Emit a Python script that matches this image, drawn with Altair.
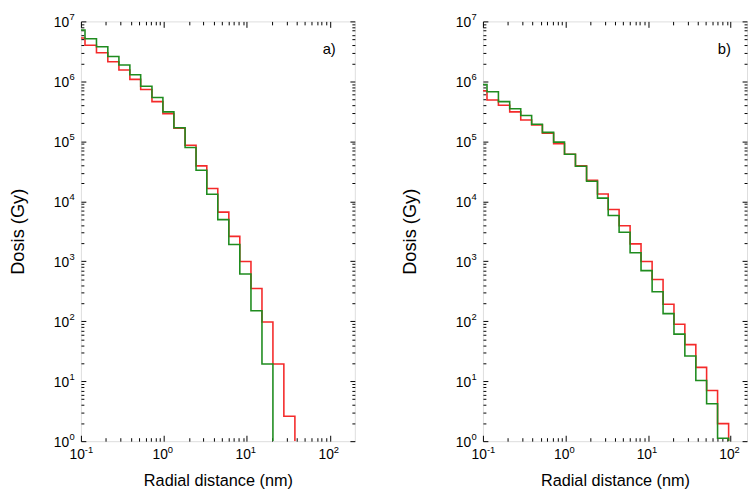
import altair as alt
import pandas as pd

# ---- data ----
# common bin edges (nm), log-spaced histogram
edges_nm = [0.112, 0.154, 0.211, 0.287, 0.389, 0.525, 0.718, 0.973, 1.32, 1.80,
            2.44, 3.29, 4.46, 6.06, 8.22, 11.2, 15.2, 20.6, 27.9, 37.9,
            51.2, 69.5, 94.6]

# panel a) dose per bin (Gy)
red_a = [5.3e6, 4.0e6, 3.0e6, 2.12e6, 1.55e6, 1.08e6, 7.3e5, 4.6e5, 2.9e5, 1.66e5,
         8.6e4, 3.9e4, 1.64e4, 6.6e3, 2.6e3, 990, 351, 97, 19.3, 2.6]
green_a = [7.2e6, 5.15e6, 3.78e6, 2.6e6, 1.87e6, 1.29e6, 8.3e5, 5.4e5, 3.1e5, 1.68e5,
           7.9e4, 3.3e4, 1.31e4, 4.95e3, 1.9e3, 615, 150, 19.3]

# panel b)
red_b = [7.0e5, 4.9e5, 4.0e5, 3.1e5, 2.27e5, 1.88e5, 1.36e5, 9.1e4, 6.1e4, 3.9e4,
         2.24e4, 1.32e4, 7.3e3, 3.9e3, 1.95e3, 990, 498, 192, 89, 40.8,
         17, 7.0, 1.96]
green_b = [8.9e5, 6.7e5, 4.6e5, 3.5e5, 2.7e5, 1.93e5, 1.41e5, 9.7e4, 6.1e4, 3.85e4,
           2.16e4, 1.13e4, 5.8e3, 3.05e3, 1.39e3, 698, 310, 134, 61, 26.4,
           10.3, 4.2, 1.12]

# tick values and labels (base "10" with superscript exponent)
x_major = [0.1, 1, 10, 100]
x_exps = ["-1", "0", "1", "2"]
x_minor = [0.2, 0.3, 0.4, 0.5, 0.6, 0.7, 0.8, 0.9,
           2, 3, 4, 5, 6, 7, 8, 9,
           20, 30, 40, 50, 60, 70, 80, 90,
           200]
y_major = [1, 10, 100, 1000, 10000, 100000, 1000000, 10000000]
y_exps = ["0", "1", "2", "3", "4", "5", "6", "7"]
y_minor = [m * d for d in [1, 10, 100, 1000, 10000, 100000, 1000000]
           for m in [2, 3, 4, 5, 6, 7, 8, 9]]

RED = "#f42a2a"
GREEN = "#1f8c1f"
FONT = "Liberation Sans"
X_MIN = 0.1
Y_MIN = 1
H = 426


def build_rows(vals, series):
    xs = [X_MIN] + edges_nm[:len(vals) - 1] + [edges_nm[len(vals) - 1]]
    ys = list(vals) + [Y_MIN]
    return [{"x": a, "y": b, "s": series} for a, b in zip(xs, ys)]


def panel(red, green, xmax, width, tag, tag_x, ytitle_pad):
    df = pd.DataFrame(build_rows(red, "red") + build_rows(green, "green"))
    xs = alt.Scale(type="log", domain=[X_MIN, xmax], nice=False)
    ys = alt.Scale(type="log", domain=[Y_MIN, 1e7], nice=False)
    xminor = [v for v in x_minor if v < xmax]
    xmajor = [v for v in x_major if v <= xmax]

    common = dict(domain=False, grid=False, tickColor="black", tickWidth=1, labels=False)
    bottom_major = alt.Axis(orient="bottom", values=xmajor, tickSize=6, offset=-6,
                            title="Radial distance (nm)", titleFont=FONT,
                            titleFontSize=16.5, titleFontWeight="normal",
                            titleColor="black", titlePadding=32, **common)
    left_major = alt.Axis(orient="left", values=y_major, tickSize=5, offset=-5,
                          title="Dosis (Gy)", titleFont=FONT, titleFontSize=18.5,
                          titleFontWeight="normal", titleColor="black",
                          titlePadding=ytitle_pad, **common)
    bottom_minor = alt.Axis(orient="bottom", values=xminor, tickSize=3.5, offset=-3.5,
                            title=None, **common)
    left_minor = alt.Axis(orient="left", values=y_minor, tickSize=3, offset=-3,
                          title=None, **common)
    top_major = alt.Axis(orient="top", values=xmajor, tickSize=6, offset=-6,
                         title=None, **common)
    right_major = alt.Axis(orient="right", values=y_major, tickSize=5, offset=-5,
                           title=None, **common)
    top_minor = alt.Axis(orient="top", values=xminor, tickSize=3.5, offset=-3.5,
                         title=None, **common)
    right_minor = alt.Axis(orient="right", values=y_minor, tickSize=3, offset=-3,
                           title=None, **common)

    base = alt.Chart(df)

    def enc(xa, ya):
        return dict(x=alt.X("x:Q", scale=xs, axis=xa),
                    y=alt.Y("y:Q", scale=ys, axis=ya))

    red_layer = base.transform_filter(alt.datum.s == "red").mark_line(
        interpolate="step-after", clip=True, color=RED, strokeWidth=1.6
    ).encode(**enc(bottom_major, left_major))
    green_layer = base.transform_filter(alt.datum.s == "green").mark_line(
        interpolate="step-after", clip=True, color=GREEN, strokeWidth=1.6
    ).encode(**enc(None, None))
    ghost1 = base.mark_line(strokeOpacity=0).encode(**enc(bottom_minor, left_minor))
    ghost2 = base.mark_line(strokeOpacity=0).encode(**enc(top_major, right_major))
    ghost3 = base.mark_line(strokeOpacity=0).encode(**enc(top_minor, right_minor))

    # tick labels: "10" plus raised exponent
    xl = pd.DataFrame({"v": x_major, "e": x_exps, "b": ["10"] * len(x_major)})
    xl = xl[xl.v <= xmax]
    yl = pd.DataFrame({"v": y_major, "e": y_exps, "b": ["10"] * len(y_major)})
    x_base = alt.Chart(xl).mark_text(
        font=FONT, fontSize=14, color="black", align="right", baseline="middle", dx=4
    ).encode(x=alt.X("v:Q", scale=xs, axis=None), y=alt.value(H + 14.5), text="b:N")
    x_sup = alt.Chart(xl).mark_text(
        font=FONT, fontSize=9.5, color="black", align="left", baseline="middle", dx=4
    ).encode(x=alt.X("v:Q", scale=xs, axis=None), y=alt.value(H + 9.5), text="e:N")
    y_base = alt.Chart(yl).mark_text(
        font=FONT, fontSize=14, color="black", align="right", baseline="middle", dy=1.5
    ).encode(y=alt.Y("v:Q", scale=ys, axis=None), x=alt.value(-12), text="b:N")
    y_sup = alt.Chart(yl).mark_text(
        font=FONT, fontSize=9.5, color="black", align="left", baseline="middle", dy=-4
    ).encode(y=alt.Y("v:Q", scale=ys, axis=None), x=alt.value(-11.5), text="e:N")

    label = alt.Chart(pd.DataFrame({"t": [tag]})).mark_text(
        font=FONT, fontSize=15, color="black", align="center", baseline="middle"
    ).encode(x=alt.value(tag_x), y=alt.value(28), text="t:N")

    return alt.layer(red_layer, green_layer, ghost1, ghost2, ghost3,
                     x_base, x_sup, y_base, y_sup, label).resolve_axis(
        x="independent", y="independent"
    ).properties(width=width, height=H)


pa = panel(red_a, green_a, 200, 278, "a)", 252, 53.5)
pb = panel(red_b, green_b, 158, 268, "b)", 245, 64)

chart = alt.hconcat(pa, pb, spacing=45).properties(
    padding={"left": 0, "top": 0, "right": 0, "bottom": 0}
).configure_view(stroke="black", strokeWidth=1.3).configure(background="white")

chart.save("out.html", embed_options={"renderer": "svg", "actions": False})
